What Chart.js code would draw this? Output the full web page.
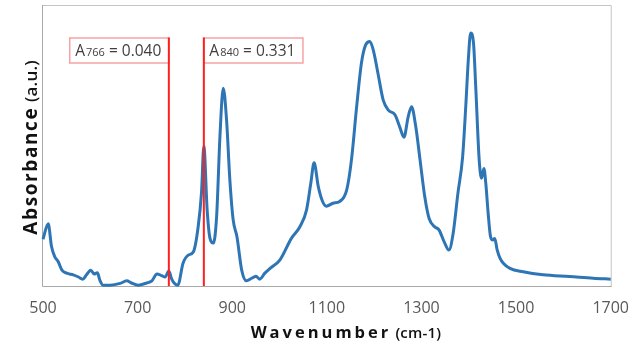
<!DOCTYPE html>
<html>
<head>
<meta charset="utf-8">
<script src="https://cdn.jsdelivr.net/npm/chart.js@4.4.1/dist/chart.umd.min.js"></script>
<style>
  html, body { margin: 0; padding: 0; background: #ffffff; }
  #wrap { width: 642px; height: 346px; position: relative; }
</style>
</head>
<body>
<div id="wrap"><canvas id="spectrum"></canvas></div>
<script>
// FTIR spectrum: wavenumber (cm-1) and absorbance (a.u.)
const wavenumbers = [
  500, 511, 518, 525, 532, 540, 550, 564, 575, 584,
  592, 601, 608, 615, 620, 627, 642, 663, 677, 687,
  701, 719, 730, 741, 751, 758, 766, 772, 779, 785,
  796, 807, 818, 828, 835, 840, 847, 853, 860, 867,
  874, 881, 888, 895, 902, 910, 920, 930, 941, 950,
  958, 969, 980, 1001, 1025, 1043, 1057, 1066, 1073, 1082,
  1091, 1099, 1113, 1127, 1142, 1152, 1163, 1173, 1182, 1191,
  1199, 1208, 1219, 1230, 1244, 1254, 1263, 1272, 1279, 1288,
  1297, 1307, 1316, 1328, 1337, 1348, 1358, 1367, 1377, 1387,
  1394, 1399, 1404, 1410, 1415, 1422, 1427, 1432, 1436, 1441,
  1446, 1451, 1455, 1460, 1466, 1473, 1487, 1515, 1557, 1613,
  1663, 1700
];
const absorbance = [
  0.114, 0.150, 0.097, 0.073, 0.062, 0.042, 0.035, 0.031, 0.026, 0.021,
  0.031, 0.042, 0.033, 0.036, 0.019, 0.007, 0.007, 0.011, 0.017, 0.012,
  0.007, 0.012, 0.017, 0.033, 0.029, 0.026, 0.040, 0.021, 0.010, 0.007,
  0.058, 0.077, 0.085, 0.143, 0.222, 0.331, 0.182, 0.116, 0.105, 0.167,
  0.353, 0.466, 0.392, 0.252, 0.159, 0.120, 0.042, 0.017, 0.023, 0.028,
  0.021, 0.035, 0.046, 0.066, 0.116, 0.143, 0.182, 0.244, 0.292, 0.236,
  0.202, 0.191, 0.198, 0.202, 0.229, 0.299, 0.423, 0.524, 0.567, 0.575,
  0.551, 0.501, 0.439, 0.415, 0.404, 0.376, 0.352, 0.400, 0.423, 0.376,
  0.299, 0.213, 0.163, 0.143, 0.136, 0.108, 0.089, 0.128, 0.221, 0.306,
  0.431, 0.532, 0.595, 0.571, 0.462, 0.299, 0.256, 0.279, 0.244, 0.174,
  0.120, 0.112, 0.116, 0.089, 0.070, 0.058, 0.046, 0.038, 0.031, 0.027,
  0.023, 0.021
];
const xTickValues = [500, 700, 900, 1100, 1300, 1500, 1700];

// Marked bands and their absorbance readings
const markerWavenumbers = [766, 840];
const markerAbsorbances = [0.040, 0.331];
const markerLabelSides = ['left', 'right'];

const xTitleParts = [
  { text: 'Wavenumber', font: 'bold 16.5px "Open Sans"', spacing: 3.0 },
  { text: ' (cm-1)', font: '600 15px "Open Sans"', spacing: 0.2 }
];
const yTitleParts = [
  { text: 'Absorbance', font: 'bold 19px "Open Sans"', spacing: 1.6 },
  { text: ' (a.u.)', font: '600 17px "Open Sans"', spacing: 0.2 }
];

const points = wavenumbers.map((w, i) => ({ x: w, y: absorbance[i] }));

function partsWidth(ctx, parts) {
  let total = 0;
  parts.forEach((p, pi) => {
    ctx.font = p.font;
    const chars = Array.from(p.text);
    chars.forEach((ch, ci) => {
      total += ctx.measureText(ch).width;
      const last = pi === parts.length - 1 && ci === chars.length - 1;
      if (!last) total += p.spacing;
    });
  });
  return total;
}

function drawParts(ctx, parts, startX, baselineY) {
  let x = startX;
  parts.forEach(p => {
    ctx.font = p.font;
    Array.from(p.text).forEach(ch => {
      ctx.fillText(ch, x, baselineY);
      x += ctx.measureText(ch).width + p.spacing;
    });
  });
}

const framePlugin = {
  id: 'frame',
  beforeDatasetsDraw(chart) {
    const { ctx, chartArea: a } = chart;
    ctx.save();
    ctx.lineWidth = 1;
    ctx.strokeStyle = '#c4c4c4';
    ctx.beginPath();
    ctx.moveTo(a.left, a.top + 0.5);
    ctx.lineTo(a.right + 0.5, a.top + 0.5);
    ctx.lineTo(a.right + 0.5, a.bottom);
    ctx.stroke();
    ctx.strokeStyle = '#a8a8a8';
    ctx.beginPath();
    ctx.moveTo(a.left - 0.5, a.top);
    ctx.lineTo(a.left - 0.5, a.bottom + 0.5);
    ctx.lineTo(a.right + 1, a.bottom + 0.5);
    ctx.stroke();
    ctx.restore();
  }
};

const markerPlugin = {
  id: 'markers',
  afterDatasetsDraw(chart) {
    const { ctx, chartArea: a, scales: { x } } = chart;
    const mainFont = '15.5px "Open Sans"';
    const subFont = '11px "Open Sans"';
    const boxTop = a.top + 33;
    const boxH = 25;
    ctx.save();
    markerWavenumbers.forEach((w, i) => {
      const px = x.getPixelForValue(w);
      const sub = String(w);
      const rest = ' = ' + markerAbsorbances[i].toFixed(3);
      ctx.font = mainFont;
      const wA = ctx.measureText('A').width;
      const wRest = ctx.measureText(rest).width;
      ctx.font = subFont;
      const wSub = ctx.measureText(sub).width;
      const boxW = wA + 1 + wSub + wRest + 13;
      const boxL = markerLabelSides[i] === 'left' ? px - boxW : px;

      // label box
      ctx.fillStyle = '#ffffff';
      ctx.fillRect(boxL, boxTop, boxW, boxH);
      ctx.strokeStyle = '#f5a3a3';
      ctx.lineWidth = 1.5;
      ctx.strokeRect(boxL, boxTop, boxW, boxH);

      // label text
      const base = boxTop + 18;
      let tx = boxL + 5.5;
      ctx.fillStyle = '#404040';
      ctx.textBaseline = 'alphabetic';
      ctx.textAlign = 'left';
      ctx.font = mainFont;
      ctx.fillText('A', tx, base);
      tx += wA + 1;
      ctx.font = subFont;
      ctx.fillText(sub, tx, base);
      tx += wSub;
      ctx.font = mainFont;
      ctx.fillText(rest, tx, base);

      // vertical line
      ctx.strokeStyle = '#ff1f1f';
      ctx.lineWidth = 2;
      ctx.beginPath();
      ctx.moveTo(px, boxTop - 0.5);
      ctx.lineTo(px, a.bottom);
      ctx.stroke();
    });
    ctx.restore();
  }
};

const titlePlugin = {
  id: 'axisTitles',
  afterDraw(chart) {
    const { ctx, chartArea: a } = chart;
    ctx.save();
    ctx.fillStyle = '#111111';
    ctx.textBaseline = 'alphabetic';
    ctx.textAlign = 'left';

    // x-axis title
    const xw = partsWidth(ctx, xTitleParts);
    const xc = (a.left + a.right) / 2 + 19;
    drawParts(ctx, xTitleParts, xc - xw / 2, a.bottom + 52);

    // y-axis title, reading bottom to top
    const yw = partsWidth(ctx, yTitleParts);
    const yc = (a.top + a.bottom) / 2 + 2;
    ctx.translate(36.5, yc);
    ctx.rotate(-Math.PI / 2);
    drawParts(ctx, yTitleParts, -yw / 2, 0);
    ctx.restore();
  }
};

new Chart(document.getElementById('spectrum'), {
  type: 'line',
  data: {
    datasets: [{
      data: points,
      borderColor: '#2e75b6',
      borderWidth: 3,
      pointRadius: 0,
      pointHoverRadius: 0,
      fill: false,
      cubicInterpolationMode: 'monotone',
      clip: 4
    }]
  },
  options: {
    responsive: true,
    maintainAspectRatio: false,
    animation: false,
    events: [],
    layout: { padding: { left: 43, right: 31, top: 5, bottom: 0 } },
    plugins: { legend: { display: false }, tooltip: { enabled: false } },
    scales: {
      x: {
        type: 'linear',
        min: 500,
        max: 1700,
        afterBuildTicks: (s) => { s.ticks = xTickValues.map(v => ({ value: v })); },
        afterFit: (s) => { s.height = 60; },
        grid: { display: false, drawTicks: false },
        border: { display: false },
        ticks: {
          font: { family: '"Open Sans"', size: 16 },
          color: '#595959',
          padding: 13,
          maxRotation: 0,
          autoSkip: false,
          callback: (v) => String(v)
        }
      },
      y: {
        display: false,
        min: 0.005,
        max: 0.66
      }
    }
  },
  plugins: [framePlugin, markerPlugin, titlePlugin]
});
</script>
</body>
</html>
